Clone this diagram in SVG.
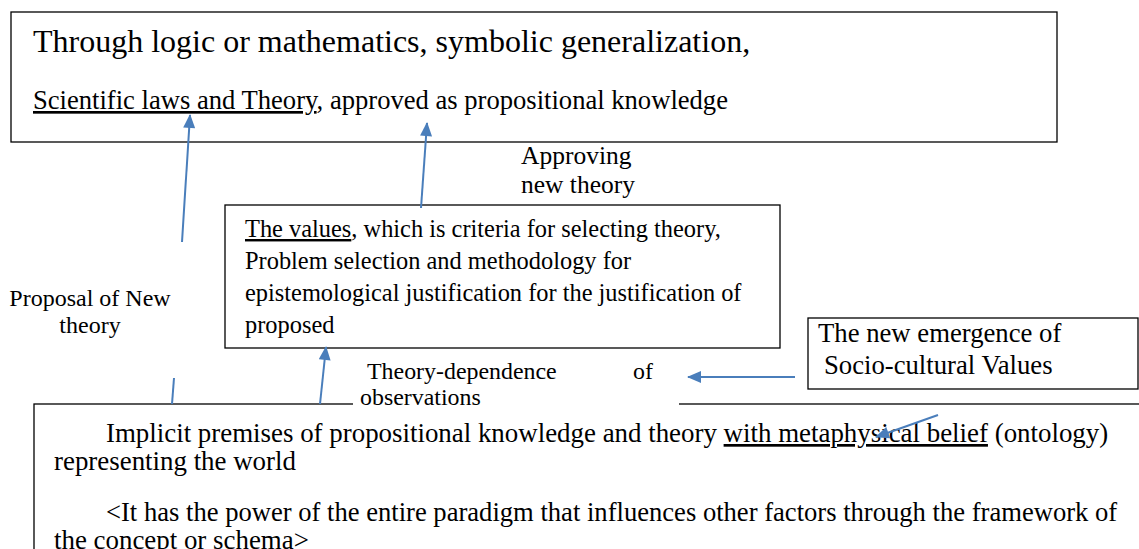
<svg xmlns="http://www.w3.org/2000/svg" width="1139" height="549" viewBox="0 0 1139 549" font-family="Liberation Serif, Tinos, DejaVu Serif, serif">
<defs>
<style>
.box{fill:#fff;stroke:#000;stroke-width:1.3}
text{font-family:'Liberation Serif','Tinos','DejaVu Serif',serif;fill:#000}
.u{text-decoration:underline}
.bg{fill:#fff;stroke:none}
.c{stroke:#4a7ebb;stroke-width:2;fill:none}
</style>
<marker id="ah2" viewBox="0 0 14 12" refX="13" refY="6" markerWidth="15" markerHeight="12" markerUnits="userSpaceOnUse" orient="auto">
<path d="M0,0 L14,6 L0,12 z" fill="#4a7ebb"/>
</marker>
</defs>
<rect width="1139" height="549" fill="#fff"/>

<g id="node-top">
<rect class="box" x="11" y="12" width="1046" height="130"/>
<text x="33" y="52" font-size="32">Through logic or mathematics, symbolic generalization,</text>
<text x="33" y="109" font-size="26.6"><tspan class="u">Scientific laws and Theory</tspan>, approved as propositional knowledge</text>
</g>

<g id="node-bottom">
<rect class="box" x="34" y="404" width="1120" height="160"/>
<text x="106" y="442" font-size="26.9">Implicit premises of propositional knowledge and theory <tspan class="u">with metaphysical belief</tspan> (ontology)</text>
<text x="54" y="470" font-size="26.9">representing the world</text>
<text x="106" y="521" font-size="26.6">&lt;It has the power of the entire paradigm that influences other factors through the framework of</text>
<text x="54" y="549" font-size="26.9">the concept or schema&gt;</text>
</g>

<g id="node-values">
<rect class="box" x="225" y="205" width="555" height="143"/>
<text x="245" y="237" font-size="24.4"><tspan class="u">The values</tspan>, which is criteria for selecting theory,</text>
<text x="245" y="269" font-size="24.4">Problem selection and methodology for</text>
<text x="245" y="301" font-size="24.4">epistemological justification for the justification of</text>
<text x="245" y="333" font-size="24.4">proposed</text>
</g>

<g id="node-social">
<rect class="box" x="808" y="318" width="330" height="71"/>
<text x="818" y="342" font-size="26.7">The new emergence of</text>
<text x="824" y="374" font-size="26.7">Socio-cultural Values</text>
</g>

<g id="label-approving">
<rect class="bg" x="510" y="143" width="212" height="56"/>
<text x="521" y="164" font-size="25.5">Approving</text>
<text x="521" y="193" font-size="25.5">new theory</text>
</g>

<g id="label-proposal">
<text x="90" y="306" font-size="24" text-anchor="middle">Proposal of New</text>
<text x="90" y="333" font-size="24" text-anchor="middle">theory</text>
</g>

<g id="label-dependence">
<rect class="bg" x="353" y="350" width="326" height="58"/>
<text x="367" y="379" font-size="23.9">Theory-dependence</text>
<text x="633" y="379" font-size="23.9">of</text>
<text x="360" y="405" font-size="23.9">observations</text>
</g>

<g id="connectors">
<line class="c" x1="182" y1="242" x2="190" y2="115" marker-end="url(#ah2)"/>
<line class="c" x1="172" y1="404" x2="174" y2="378"/>
<line class="c" x1="421" y1="208" x2="427" y2="123" marker-end="url(#ah2)"/>
<line class="c" x1="320" y1="404" x2="326" y2="347" marker-end="url(#ah2)"/>
<line class="c" x1="795" y1="377" x2="688" y2="377" marker-end="url(#ah2)"/>
<line class="c" x1="938" y1="415" x2="876" y2="437" marker-end="url(#ah2)"/>
</g>
</svg>
